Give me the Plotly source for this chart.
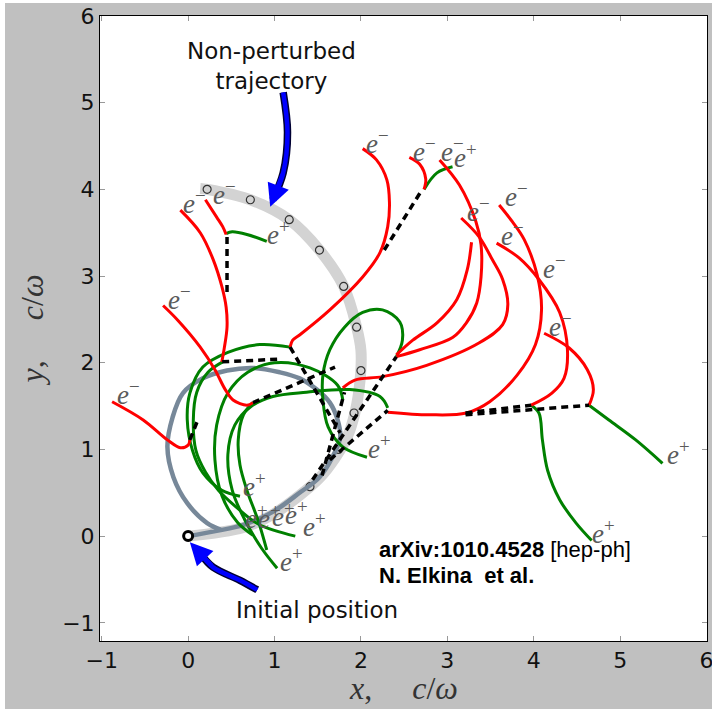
import plotly.graph_objects as go

# ---------------- data (units of c/omega) ----------------
x_ticks = [-1, 0, 1, 2, 3, 4, 5, 6]
x_tick_labels = ["\u22121", "0", "1", "2", "3", "4", "5", "6"]
y_ticks = [-1, 0, 1, 2, 3, 4, 5, 6]
y_tick_labels = ["\u22121", "0", "1", "2", "3", "4", "5", "6"]

# non-perturbed trajectory and its time markers
unperturbed = [(0, 0), (0.64, 0.10), (0.98, 0.25), (1.29, 0.47), (1.52, 0.67), (1.70, 0.90),
               (1.84, 1.14), (1.93, 1.42), (1.99, 1.80), (2.00, 2.14), (1.95, 2.41), (1.80, 2.88),
               (1.52, 3.30), (1.17, 3.65), (0.72, 3.88), (0.22, 4.00), (0.14, 4.01)]
unperturbed_marks = [(0.22, 4.00), (0.72, 3.88), (1.17, 3.65), (1.52, 3.30), (1.80, 2.88),
                     (1.95, 2.41), (2.00, 1.91), (1.92, 1.42), (1.74, 1.00), (1.41, 0.57)]

# perturbed trajectory of the initial particle
perturbed = [(0, 0), (0.33, 0.06), (0.64, 0.13), (0.98, 0.28), (1.29, 0.50), (1.52, 0.68),
             (1.67, 0.91), (1.76, 1.14), (1.73, 1.34), (1.64, 1.54), (1.49, 1.69), (1.29, 1.82),
             (1.06, 1.89), (0.75, 1.94), (0.45, 1.91), (0.17, 1.82), (-0.06, 1.65), (-0.18, 1.37),
             (-0.24, 1.03), (-0.17, 0.68), (-0.01, 0.38), (0.22, 0.15), (0.39, 0.07)]
initial_position = (0, 0)

# electron trajectories (e-)
red_a = [(-0.88, 1.55), (-0.52, 1.34), (-0.24, 1.11), (-0.09, 1.02), (0.0, 1.05), (0.02, 1.11)]
red_b = [(-0.29, 2.66), (-0.12, 2.49), (0.14, 2.18), (0.31, 1.92), (0.43, 1.69), (0.52, 1.57),
         (0.68, 1.51), (0.75, 1.54)]
red_c = [(-0.09, 3.76), (0.14, 3.50), (0.29, 3.19), (0.39, 2.88), (0.44, 2.64), (0.45, 2.41),
         (0.42, 2.18), (0.39, 2.01)]
red_d = [(0.20, 3.88), (0.33, 3.68), (0.40, 3.57), (0.44, 3.48)]
red_e = [(1.18, 2.18), (1.21, 2.26), (1.29, 2.32), (1.64, 2.61), (2.02, 2.99), (2.22, 3.27),
         (2.31, 3.57), (2.33, 3.85), (2.30, 4.11), (2.18, 4.34), (2.02, 4.47)]
red_f = [(2.56, 4.37), (2.68, 4.29), (2.75, 4.12), (2.73, 4.00)]
red_g = [(2.41, 2.07), (2.68, 2.15), (3.06, 2.29), (3.22, 2.46), (3.34, 2.69), (3.39, 2.99),
         (3.39, 3.36), (3.33, 3.63), (3.14, 4.05), (2.91, 4.34)]
red_h = [(2.41, 2.09), (2.60, 2.26), (2.88, 2.46), (3.11, 2.73), (3.23, 3.07), (3.28, 3.39)]
red_i = [(1.79, 1.71), (1.93, 1.80), (2.25, 1.84), (2.76, 1.97), (3.37, 2.23), (3.64, 2.44),
         (3.70, 2.67), (3.64, 2.96), (3.52, 3.19), (3.37, 3.45), (3.16, 3.67)]
red_j = [(2.31, 1.43), (2.79, 1.40), (3.22, 1.42), (3.49, 1.55), (3.81, 1.86), (4.02, 2.21),
         (4.09, 2.61), (4.04, 3.01), (3.89, 3.42), (3.75, 3.63), (3.60, 3.82)]
red_k = [(3.97, 1.51), (4.21, 1.65), (4.35, 1.82), (4.39, 2.15), (4.30, 2.58), (4.06, 2.96),
         (3.83, 3.21), (3.57, 3.38)]
red_l = [(4.64, 1.51), (4.69, 1.69), (4.62, 1.92), (4.41, 2.17), (4.12, 2.34)]

# positron trajectories (e+)
green_a = [(1.18, 2.18), (0.83, 2.21), (0.46, 2.12), (0.17, 1.95), (0.02, 1.65), (-0.01, 1.34),
           (0.05, 0.99), (0.17, 0.73), (0.39, 0.53), (0.60, 0.46)]
green_b = [(0.40, 2.01), (0.23, 1.89), (0.10, 1.66), (0.06, 1.34), (0.09, 0.99), (0.20, 0.74),
           (0.35, 0.53), (0.54, 0.35), (0.81, 0.14), (1.24, 0.00)]
green_c = [(0.75, 1.54), (0.64, 1.40), (0.58, 1.11), (0.60, 0.82), (0.68, 0.53), (0.81, 0.18),
           (0.91, -0.16)]
green_d = [(2.41, 2.07), (2.48, 2.26), (2.45, 2.47), (2.25, 2.61), (2.02, 2.58), (1.81, 2.41),
           (1.64, 2.15), (1.56, 1.86), (1.56, 1.57), (1.62, 1.26), (1.79, 1.03), (2.07, 0.91)]
green_e = [(2.31, 1.48), (2.22, 1.61), (1.87, 1.69), (1.37, 1.66), (0.98, 1.61), (0.72, 1.49),
           (0.54, 1.28), (0.46, 0.94), (0.51, 0.53), (0.66, 0.18), (0.85, -0.14), (1.03, -0.37)]
green_f = [(1.79, 1.57), (1.73, 1.74), (1.41, 1.94), (1.00, 2.00), (0.69, 1.89), (0.46, 1.65),
           (0.33, 1.28), (0.31, 0.88), (0.39, 0.47), (0.57, 0.16), (0.75, 0.01)]
green_g = [(0.44, 3.49), (0.51, 3.51), (0.68, 3.48), (0.91, 3.40)]
green_h = [(2.73, 4.00), (2.88, 4.19), (3.06, 4.26)]
green_i = [(3.97, 1.51), (4.06, 1.42), (4.10, 1.11), (4.16, 0.76), (4.30, 0.42), (4.49, 0.15),
           (4.67, -0.05)]
green_j = [(4.64, 1.51), (4.87, 1.34), (5.18, 1.11), (5.49, 0.84)]

# photon paths
photon_1 = [(0.45, 3.45), (0.45, 2.76)]
photon_2 = [(1.03, 2.04), (0.39, 2.01)]
photon_3 = [(2.27, 3.30), (2.71, 4.00)]
photon_4 = [(1.18, 2.18), (1.76, 1.19)]
photon_5 = [(1.44, 0.65), (2.41, 2.07)]
photon_6 = [(1.64, 0.88), (2.31, 1.45)]
photon_7 = [(0.75, 1.54), (1.70, 1.95)]
photon_8 = [(1.55, 0.70), (1.81, 1.66)]
photon_9 = [(0.02, 1.11), (0.12, 1.36)]
photon_10 = [(3.21, 1.42), (3.97, 1.51)]
photon_11 = [(3.21, 1.40), (4.64, 1.51)]

# particle labels: (x, y, charge)
particle_labels = [(-0.76, 1.65, "-"), (-0.18, 2.75, "-"), (0.0, 3.85, "-"), (0.35, 3.96, "-"),
                   (0.97, 3.50, "+"), (2.12, 4.55, "-"), (2.66, 4.46, "-"), (2.99, 4.46, "-"),
                   (3.14, 4.38, "+"), (3.28, 3.76, "-"), (3.72, 3.94, "-"), (3.68, 3.48, "-"),
                   (4.16, 3.11, "-"), (4.24, 2.44, "-"), (5.60, 0.96, "+"), (4.73, 0.05, "+"),
                   (2.14, 1.03, "+"), (0.69, 0.59, "+"), (0.72, 0.22, "+"), (0.87, 0.22, "+"),
                   (1.03, 0.24, "+"), (1.18, 0.27, "+"), (1.39, 0.13, "+"), (1.12, -0.28, "+")]

# pointer arrows
arrow_unperturbed = [(1.10, 5.12), (1.15, 4.66), (1.10, 4.19), (0.98, 3.88), (0.95, 3.80)]
arrow_initial = [(0.80, -0.62), (0.60, -0.51), (0.29, -0.36), (0.14, -0.20), (0.02, -0.07)]

red_curves = [red_a, red_b, red_c, red_d, red_e, red_f, red_g, red_h, red_i, red_j, red_k, red_l]
green_curves = [green_a, green_b, green_c, green_d, green_e, green_f, green_g, green_h, green_i, green_j]
photons = [photon_1, photon_2, photon_3, photon_4, photon_5, photon_6, photon_7, photon_8,
           photon_9, photon_10, photon_11]

# ---------------- figure ----------------
fig = go.Figure()


def add_line(pts, color, width, dash=None, shape="spline"):
    fig.add_trace(go.Scatter(
        x=[p[0] for p in pts], y=[p[1] for p in pts], mode="lines",
        line=dict(color=color, width=width, dash=dash, shape=shape, smoothing=1.0),
        hoverinfo="skip", showlegend=False))


add_line(unperturbed, "#d3d3d3", 11)
fig.add_trace(go.Scatter(
    x=[p[0] for p in unperturbed_marks], y=[p[1] for p in unperturbed_marks], mode="markers",
    marker=dict(symbol="circle-open", size=8, color="#333333", line=dict(width=1.2)),
    hoverinfo="skip", showlegend=False))
add_line(perturbed, "#778899", 4.5)
for c in green_curves:
    add_line(c, "#008000", 3)
for c in red_curves:
    add_line(c, "#ff0000", 3)
for c in photons:
    add_line(c, "#000000", 3.5, dash="7px,5px", shape="linear")

fig.add_trace(go.Scatter(
    x=[initial_position[0]], y=[initial_position[1]], mode="markers",
    marker=dict(symbol="circle", size=9, color="white", line=dict(color="black", width=3)),
    hoverinfo="skip", showlegend=False))

# arrows (dark outline + blue body)
for arr in (arrow_unperturbed, arrow_initial):
    add_line(arr[:-1], "#000033", 7.5)
    add_line(arr[:-1], "#0000ff", 4.5)

annotations = []
for arr in (arrow_unperturbed, arrow_initial):
    annotations.append(dict(x=arr[-1][0], y=arr[-1][1], ax=arr[-3][0], ay=arr[-3][1],
                            xref="x", yref="y", axref="x", ayref="y", text="",
                            showarrow=True, arrowhead=2, arrowsize=1.0, arrowwidth=4.5,
                            arrowcolor="#0000ff", standoff=0))

for (lx, ly, q) in particle_labels:
    sign = "\u2212" if q == "-" else "+"
    annotations.append(dict(x=lx, y=ly, xref="x", yref="y", xanchor="left", yanchor="middle",
                            xshift=-7, showarrow=False,
                            text="<i>e</i><sup>" + sign + "</sup>",
                            font=dict(family="Liberation Serif", size=27, color="#5a5a5a")))

annotations += [
    dict(x=0.97, y=5.42, xref="x", yref="y", showarrow=False,
         text="Non-perturbed<br>trajectory",
         font=dict(family="DejaVu Sans", size=23, color="#111111")),
    dict(x=1.49, y=-0.85, xref="x", yref="y", showarrow=False, text="Initial position",
         font=dict(family="DejaVu Sans", size=23, color="#111111")),
    dict(x=2.19, y=-0.15, xref="x", yref="y", xanchor="left", showarrow=False,
         text="<b>arXiv:1010.4528</b> [hep-ph]",
         font=dict(family="Liberation Sans", size=22, color="#000000")),
    dict(x=2.19, y=-0.46, xref="x", yref="y", xanchor="left", showarrow=False,
         text="<b>N. Elkina\u00a0 et al.</b>",
         font=dict(family="Liberation Sans", size=22, color="#000000")),
    dict(x=0.5, y=-0.0752, xref="paper", yref="paper", showarrow=False, yanchor="middle",
         text="<i>x</i>,\u2003 <i>c</i>/<i>\u03c9</i>",
         font=dict(family="Liberation Serif", size=32, color="#333333")),
    dict(x=-0.112, y=0.497, xref="paper", yref="paper", showarrow=False, textangle=-90,
         xanchor="center", yanchor="middle",
         text="<i>y</i>,\u2003 <i>c</i>/<i>\u03c9</i>",
         font=dict(family="Liberation Serif", size=32, color="#333333")),
]

axis_common = dict(showgrid=False, zeroline=False, showline=True, linecolor="black",
                   linewidth=1, mirror="ticks", ticks="inside", ticklen=5, tickcolor="#999999",
                   ticklabeloverflow="allow", automargin=False,
                   tickfont=dict(family="DejaVu Sans", size=22, color="#111111"))

fig.update_layout(
    width=712, height=714,
    margin=dict(l=100, r=5, t=16, b=73, autoexpand=False),
    paper_bgcolor="white", plot_bgcolor="white",
    xaxis=dict(range=[-1.02, 6.005], tickvals=x_ticks, ticktext=x_tick_labels, **axis_common),
    yaxis=dict(range=[-1.21, 6.0], tickvals=y_ticks, ticktext=y_tick_labels, **axis_common),
    shapes=[dict(type="rect", xref="paper", yref="paper", x0=-0.1565, x1=1.02,
                 y0=-0.1088, y1=1.0208, fillcolor="#c0c0c0", line=dict(width=0), layer="below"),
            dict(type="rect", xref="paper", yref="paper", x0=0, x1=1,
                 y0=0, y1=1, fillcolor="white", line=dict(width=0), layer="below")],
    annotations=annotations,
)

fig.write_html("out.html")
